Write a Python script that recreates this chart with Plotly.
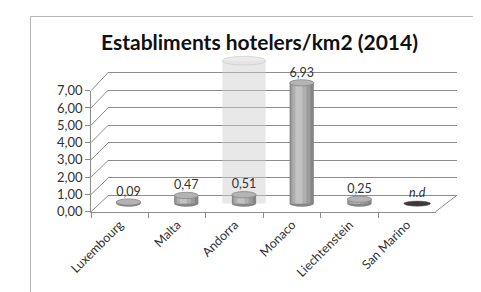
import plotly.graph_objects as go

# ---------------- data ----------------
categories = ["Luxembourg", "Malta", "Andorra", "Monaco", "Liechtenstein", "San Marino"]
values = [0.09, 0.47, 0.51, 6.93, 0.25, None]   # None = n.d (no data)
missing_label = "n.d"
y_ticks = [0, 1, 2, 3, 4, 5, 6, 7]
title_text = "Establiments hotelers/km2 (2014)"
highlight_category = "Andorra"
highlight_height = 8.2

# ---------------- geometry (pixel frame of the pseudo-3D box) ----------------
W, H = 481, 292
OFF = 8  # page body margin
def px(x): return (x - OFF) / W
def py(y): return 1 - (y - OFF) / H

FRONT = dict(x0=72, x1=433, y0=215, y7=87)
BACK = dict(x0=90, x1=455, y0=198, y7=67.7)
MID = dict(x0=81, x1=444, y0=206.5, y7=77.4)

def ydomain(frame, rmin, rmax):
    s = (frame["y0"] - frame["y7"]) / 7.0
    return [py(frame["y0"] - rmin * s), py(frame["y0"] - rmax * s)]

def ypix(frame, v):
    s = (frame["y0"] - frame["y7"]) / 7.0
    return frame["y0"] - v * s

FONT = "Lato, 'Open Sans', sans-serif"
AX = "#8c8c8c"

fig = go.Figure()

# invisible anchors so every axis pair renders
fig.add_trace(go.Scatter(x=categories, y=[None]*len(categories), xaxis="x", yaxis="y",
                         showlegend=False, hoverinfo="skip"))
fig.add_trace(go.Scatter(x=categories, y=[None]*len(categories), xaxis="x2", yaxis="y2",
                         showlegend=False, hoverinfo="skip"))

# highlight column
hl = [highlight_height if c == highlight_category else None for c in categories]
fig.add_trace(go.Bar(x=categories, y=hl, xaxis="x3", yaxis="y3", width=0.75,
                     marker=dict(color="rgba(205,205,205,0.45)", line=dict(width=0)),
                     showlegend=False, hoverinfo="skip"))

# cylinder bars built from layered bars (shading)
layers = [(0.42, 0.0, "#858585"), (0.34, -0.02, "#9b9b9b"),
          (0.24, -0.04, "#afafaf"), (0.12, -0.05, "#c3c3c3")]
for w, sh, col in layers:
    fig.add_trace(go.Bar(x=categories, y=values, xaxis="x3", yaxis="y3",
                         width=w, offset=-w/2 + sh,
                         marker=dict(color=col, line=dict(width=0)),
                         showlegend=False, hoverinfo="skip"))

# value labels
EH = 0.18  # ellipse half height in value units
lab_y = [(v if v is not None else 0) + EH for v in values]
lab_t = [("%.2f" % v).replace(".", ",") if v is not None else "<i>%s</i>" % missing_label
         for v in values]
fig.add_trace(go.Scatter(x=categories, y=lab_y, xaxis="x3", yaxis="y3", mode="text",
                         text=lab_t, textposition="top center", cliponaxis=False,
                         textfont=dict(family=FONT, size=12.5, color="#333333"),
                         showlegend=False, hoverinfo="skip"))

shapes = []
# outer frame
shapes.append(dict(type="rect", xref="paper", yref="paper",
                   x0=px(8.5), x1=px(W + 30), y0=py(H + 30), y1=py(8.5),
                   line=dict(color="#b4b4b4", width=1), fillcolor="rgba(0,0,0,0)", layer="below"))

# cylinder tops / bottoms
BW = 0.42
for i, v in enumerate(values):
    if v is None:
        shapes.append(dict(type="circle", xref="x3", yref="y3",
                           x0=i - BW/2 - 0.02, x1=i + BW/2 + 0.02, y0=-EH*0.8, y1=EH*0.8,
                           fillcolor="#3a3a3a", line=dict(color="#555", width=0.5)))
        continue
    shapes.append(dict(type="circle", xref="x3", yref="y3", layer="below",
                       x0=i - BW/2, x1=i + BW/2, y0=-EH, y1=EH,
                       fillcolor="#858585", line=dict(width=0)))
    shapes.append(dict(type="circle", xref="x3", yref="y3",
                       x0=i - BW/2, x1=i + BW/2, y0=v - EH, y1=v + EH,
                       fillcolor="#b4b4b4", line=dict(color="#858585", width=0.8)))
    if categories[i] == highlight_category:
        shapes.append(dict(type="circle", xref="x3", yref="y3",
                           x0=i - 0.375, x1=i + 0.375,
                           y0=highlight_height - 0.25, y1=highlight_height + 0.25,
                           fillcolor="rgba(228,228,228,0.7)",
                           line=dict(color="rgba(200,200,200,0.8)", width=0.8)))

# left wall diagonals (front tick -> back grid line)
for v in y_ticks:
    shapes.append(dict(type="line", xref="paper", yref="paper",
                       x0=px(FRONT["x0"]), y0=py(ypix(FRONT, v)),
                       x1=px(BACK["x0"]), y1=py(ypix(BACK, v)),
                       line=dict(color=AX, width=1)))
# right floor diagonal
shapes.append(dict(type="line", xref="paper", yref="paper",
                   x0=px(FRONT["x1"]), y0=py(ypix(FRONT, 0)),
                   x1=px(BACK["x1"]), y1=py(ypix(BACK, 0)),
                   line=dict(color=AX, width=1)))

fig.update_layout(
    width=W, height=H,
    margin=dict(l=0, r=0, t=0, b=0),
    paper_bgcolor="white", plot_bgcolor="rgba(0,0,0,0)",
    separators=",.",
    barmode="overlay",
    showlegend=False,
    font=dict(family=FONT, color="#333333"),
    shapes=shapes,
    annotations=[dict(text="<b>%s</b>" % title_text, xref="paper", yref="paper",
                      x=px(248), y=py(35), xanchor="center", yanchor="middle",
                      showarrow=False, font=dict(family=FONT, size=21, color="#111111"))],
    # front axes: tick labels
    xaxis=dict(domain=[px(FRONT["x0"]), px(FRONT["x1"])], anchor="y",
               type="category", categoryorder="array", categoryarray=categories,
               range=[-0.5, len(categories) - 0.5],
               showline=True, linecolor=AX, linewidth=1,
               ticks="outside", tickson="boundaries", ticklen=5, tickcolor=AX,
               tickangle=-45, tickfont=dict(family=FONT, size=12.5, color="#333333"),
               showgrid=False, zeroline=False, fixedrange=True),
    yaxis=dict(domain=ydomain(FRONT, 0, 7), anchor="x", range=[0, 7],
               tickvals=y_ticks, tickformat=".2f",
               showline=True, linecolor=AX, linewidth=1,
               ticks="outside", ticklen=5, tickcolor=AX,
               tickfont=dict(family=FONT, size=13, color="#333333"),
               showgrid=False, zeroline=False, fixedrange=True),
    # back wall: grid lines
    xaxis2=dict(domain=[px(BACK["x0"]), px(BACK["x1"])], anchor="y2",
                type="category", categoryorder="array", categoryarray=categories,
                range=[-0.5, len(categories) - 0.5],
                showticklabels=False, showgrid=False, zeroline=False, showline=False,
                fixedrange=True),
    yaxis2=dict(domain=ydomain(BACK, -0.1, 7.1), anchor="x2", range=[-0.1, 7.1],
                tickvals=y_ticks, showticklabels=False, ticks="",
                showgrid=True, gridcolor=AX, gridwidth=1,
                zeroline=False, showline=False, fixedrange=True),
    # mid depth: the cylinders
    xaxis3=dict(domain=[px(MID["x0"]), px(MID["x1"])], anchor="y3",
                type="category", categoryorder="array", categoryarray=categories,
                range=[-0.5, len(categories) - 0.5],
                showticklabels=False, showgrid=False, zeroline=False, showline=False,
                fixedrange=True),
    yaxis3=dict(domain=ydomain(MID, -0.4, 9), anchor="x3", range=[-0.4, 9],
                showticklabels=False, showgrid=False, zeroline=False, showline=False,
                fixedrange=True),
)

fig.write_html("out.html")
